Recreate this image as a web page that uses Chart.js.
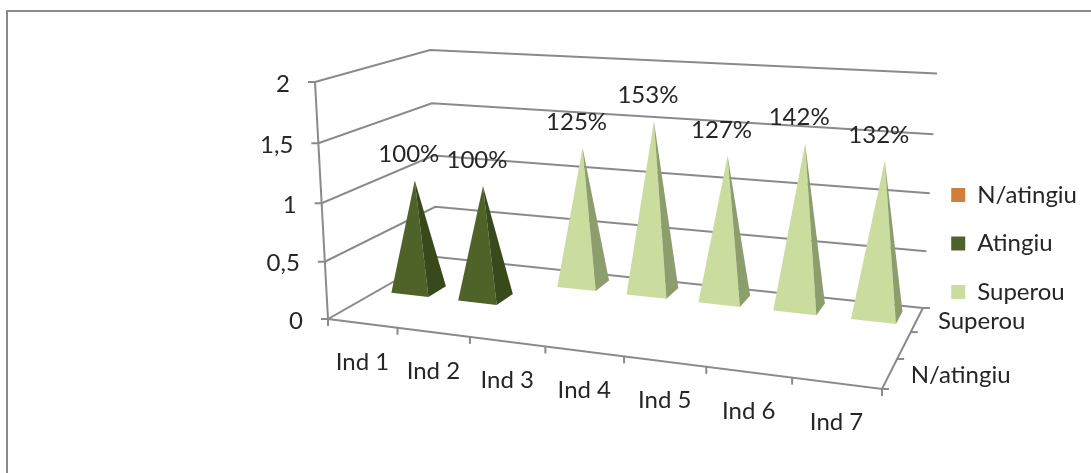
<!DOCTYPE html>
<html>
<head>
<meta charset="utf-8">
<style>
  body { margin: 0; background: #fff; }
</style>
<script src="https://cdn.jsdelivr.net/npm/chart.js@4"></script>
</head>
<body>
<canvas id="myChart" width="1091" height="473"></canvas>
<script>
var categories = ['Ind 1', 'Ind 2', 'Ind 3', 'Ind 4', 'Ind 5', 'Ind 6', 'Ind 7'];
var nAtingiu = [null, null, null, null, null, null, null];
var atingiu = [1, 1, null, null, null, null, null];
var superou = [null, null, 1.25, 1.53, 1.27, 1.42, 1.32];
var depthLabels = ['N/atingiu', '', 'Superou'];

var GRID = '#8a8a8a';
var TEXT = '#262626';
var FONT = 'Lato, sans-serif';

// perspective camera: pixel = (o + a*u + b*d + c*h) / w, with u, d, h running 0..1
var cam = {
    x: [328, 431.4, 175.3, -26.8],
    y: [319, 15.9, -23, -240.6],
    w: [1, -0.139, 0.1518, -0.0438]
};

function project(u, d, h) {
    var w = cam.w[0] + cam.w[1] * u + cam.w[2] * d + cam.w[3] * h;
    return {
        x: (cam.x[0] + cam.x[1] * u + cam.x[2] * d + cam.x[3] * h) / w,
        y: (cam.y[0] + cam.y[1] * u + cam.y[2] * d + cam.y[3] * h) / w
    };
}

function path(ctx, pts) {
    ctx.beginPath();
    pts.forEach(function (p, i) {
        if (i === 0) ctx.moveTo(p.x, p.y);
        else ctx.lineTo(p.x, p.y);
    });
}

function stroke(ctx, pts) {
    path(ctx, pts);
    ctx.stroke();
}

function drawFrame(ctx, chart) {
    ctx.strokeStyle = GRID;
    ctx.lineWidth = 2;
    ctx.beginPath();
    ctx.moveTo(7, chart.height);
    ctx.lineTo(7, 11);
    ctx.lineTo(chart.width, 11);
    ctx.stroke();
}

function drawAxes(ctx, chart) {
    var xs = chart.scales.x, ys = chart.scales.y;
    var toH = function (v) { return (ys.bottom - ys.getPixelForValue(v)) / ys.height; };

    ctx.strokeStyle = GRID;
    ctx.lineWidth = 2;
    ctx.fillStyle = TEXT;
    ctx.font = '24px ' + FONT;
    ctx.textBaseline = 'middle';

    // walls: one broken line per value tick, plus its tick mark and label
    ctx.textAlign = 'right';
    ys.ticks.forEach(function (t) {
        var h = toH(t.value);
        var a = project(0, 0, h);
        stroke(ctx, [{ x: a.x - 7, y: a.y }, a, project(0, 1, h), project(1, 1, h)]);
        ctx.fillText(t.label, a.x - 25, a.y + 2);
    });
    stroke(ctx, [project(0, 0, 0), project(0, 0, 1)]);

    // floor edges
    stroke(ctx, [project(0, 0, 0), project(1, 0, 0), project(1, 1, 0)]);

    // category ticks and labels along the front edge
    ctx.textAlign = 'center';
    categories.forEach(function (name, i) {
        var p = project(i / categories.length, 0, 0);
        stroke(ctx, [p, { x: p.x, y: p.y + 7 }]);
        var c = project((xs.getPixelForValue(i) - xs.left) / xs.width, 0, 0);
        ctx.fillText(name, c.x, c.y + 39);
    });
    var end = project(1, 0, 0);
    stroke(ctx, [end, { x: end.x, y: end.y + 7 }]);

    // series ticks and labels along the right edge
    ctx.textAlign = 'left';
    depthLabels.forEach(function (name, i) {
        var p = project(1, i / depthLabels.length, 0);
        stroke(ctx, [p, { x: p.x + 7, y: p.y }]);
        if (name) {
            var c = project(1, (i + 0.5) / depthLabels.length, 0);
            ctx.fillText(name, c.x + 21, c.y + 2);
        }
    });
    var back = project(1, 1, 0);
    stroke(ctx, [back, { x: back.x + 7, y: back.y }]);
}

function drawPyramids(ctx, chart) {
    var xs = chart.scales.x, ys = chart.scales.y;
    var labels = [];
    var count = chart.data.datasets.length;

    // back row first, so nearer pyramids cover farther ones
    for (var di = count - 1; di >= 0; di--) {
        var ds = chart.data.datasets[di];
        var meta = chart.getDatasetMeta(di);
        var d = (di + 0.5) / count;
        var hd = ds.depthSize / 2;

        meta.data.forEach(function (bar, i) {
            if (ds.data[i] === null) return;
            var u = (bar.x - xs.left) / xs.width;
            var hu = bar.width / xs.width / 2;
            var h = (ys.bottom - bar.y) / ys.height;
            var apex = project(u, d, h);

            ctx.fillStyle = ds.backgroundColor;
            path(ctx, [project(u - hu, d - hd, 0), project(u + hu, d - hd, 0), apex]);
            ctx.fill();
            ctx.fillStyle = ds.sideColor;
            path(ctx, [project(u + hu, d - hd, 0), project(u + hu, d + hd, 0), apex]);
            ctx.fill();

            labels.push({ text: Math.round(ds.data[i] * 100) + '%', x: apex.x - 6, y: apex.y - 26 });
        });
    }

    ctx.fillStyle = TEXT;
    ctx.font = '24px ' + FONT;
    ctx.textAlign = 'center';
    ctx.textBaseline = 'middle';
    labels.forEach(function (l) {
        ctx.fillText(l.text, l.x, l.y);
    });
}

// the 3D scene replaces the flat bars
var scene3d = {
    id: 'scene3d',
    beforeDatasetsDraw: function (chart) {
        var ctx = chart.ctx;
        ctx.save();
        drawFrame(ctx, chart);
        drawAxes(ctx, chart);
        drawPyramids(ctx, chart);
        ctx.restore();
        return false;
    }
};

var ctx = document.getElementById('myChart').getContext('2d');
var chart = new Chart(ctx, {
    type: 'bar',
    data: {
        labels: categories,
        datasets: [{
            label: 'N/atingiu',
            data: nAtingiu,
            backgroundColor: '#CF7F3C',
            sideColor: '#9A5E2C',
            depthSize: 0.17
        }, {
            label: 'Atingiu',
            data: atingiu,
            backgroundColor: '#4F6228',
            sideColor: '#38491C',
            depthSize: 0.17
        }, {
            label: 'Superou',
            data: superou,
            backgroundColor: '#CBDD9E',
            sideColor: '#8D9E6E',
            depthSize: 0.17
        }]
    },
    options: {
        responsive: false,
        animation: false,
        layout: { padding: { top: 14, right: 4 } },
        datasets: { bar: { barPercentage: 0.56, categoryPercentage: 1 } },
        scales: {
            x: { display: false, stacked: true },
            y: {
                display: false,
                stacked: true,
                min: 0,
                max: 2,
                ticks: {
                    stepSize: 0.5,
                    callback: function (v) { return String(v).replace('.', ','); }
                }
            }
        },
        plugins: {
            tooltip: { enabled: false },
            legend: {
                position: 'right',
                onClick: null,
                labels: {
                    boxWidth: 14,
                    boxHeight: 14,
                    padding: 24.5,
                    color: TEXT,
                    font: { family: 'Lato', size: 24 }
                }
            }
        }
    },
    plugins: [scene3d]
});
</script>
</body>
</html>
